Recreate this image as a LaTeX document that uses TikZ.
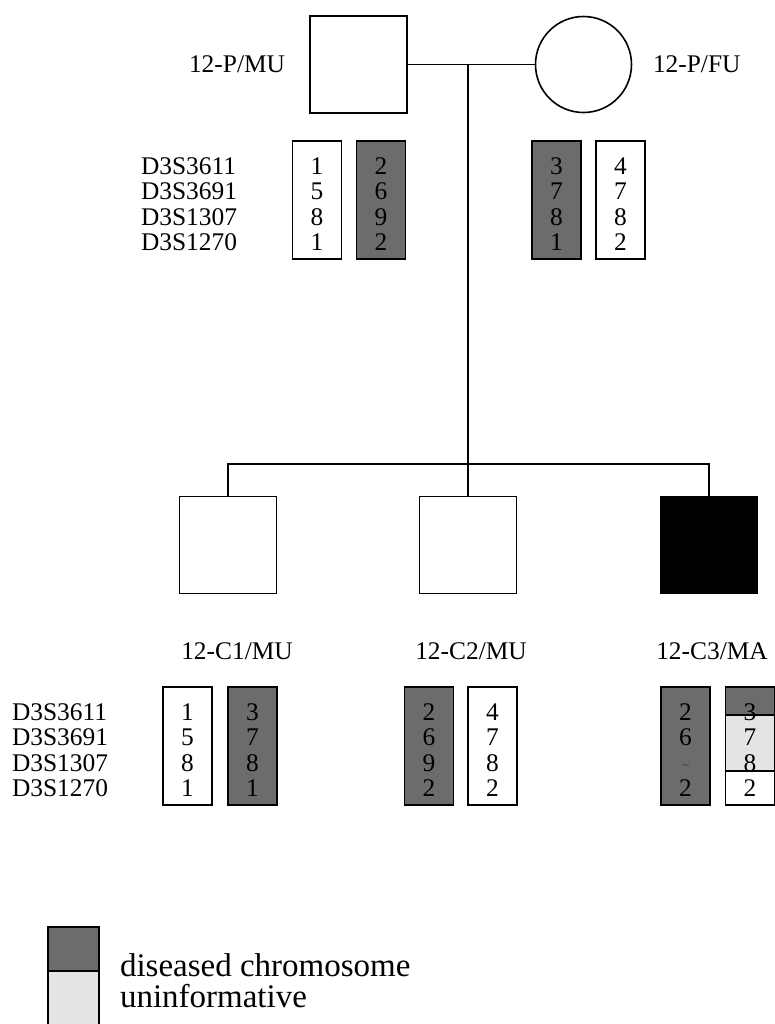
\documentclass[tikz,border=0pt]{standalone}
\usepackage{fontspec}
\setmainfont{Liberation Serif}
\usetikzlibrary{shapes.geometric}

\definecolor{diseased}{RGB}{108,108,108}
\definecolor{uninformative}{RGB}{228,228,228}

\newcommand{\hapfont}{\fontsize{12.7}{12.75}\selectfont}
\newcommand{\legfont}{\fontsize{16.5}{19}\selectfont}
\newcommand{\hapstrut}{\rule{0pt}{12.6pt}}

\tikzset{
  male/.style={
    draw=black, fill=white, line width=0.8pt,
    minimum width=48.5pt, minimum height=48.5pt,
    inner sep=0pt
  },
  female/.style={
    circle, draw=black, fill=white, line width=0.8pt,
    minimum size=48pt, inner sep=0pt
  },
  affected/.style={
    male, fill=black
  },
  idlabel/.style={
    font=\hapfont, inner sep=0pt
  },
  hapbox/.style={
    draw=black, line width=0.7pt,
    minimum width=24.5pt, minimum height=59pt,
    align=center, font=\hapfont,
    inner sep=0pt, anchor=north
  },
  diseasedbox/.style={
    hapbox, fill=diseased
  },
  markerlist/.style={
    hapbox, draw=none, align=left,
    minimum width=0pt, anchor=north west
  },
  legendkey/.style={
    draw=black, line width=0.7pt,
    minimum width=25.5pt, inner sep=0pt, anchor=north west
  },
  legendtext/.style={
    font=\legfont, inner sep=0pt, anchor=west
  },
}

\begin{document}
\begin{tikzpicture}[x=0.5pt, y=-0.5pt, every node/.style={outer sep=0pt}]

\useasboundingbox (0,0) rectangle (775,1024);

%% Parents
\node[male] (father) at (358.5,64.5) {};
\node[female] (mother) at (583.5,64.5) {};
\node[idlabel, anchor=east] (fatherid) at (285,64.5) {12-P/MU};
\node[idlabel, anchor=west] (motherid) at (653,64.5) {12-P/FU};

%% Parent haplotypes
\node[markerlist] (parentmarkers) at (141,141)
  {\hapstrut D3S3611\\D3S3691\\D3S1307\\D3S1270};
\node[hapbox] (fatherhapa) at (317,141) {\hapstrut 1\\5\\8\\1};
\node[diseasedbox] (fatherhapb) at (381,141) {\hapstrut 2\\6\\9\\2};
\node[diseasedbox] (motherhapa) at (556.5,141) {\hapstrut 3\\7\\8\\1};
\node[hapbox] (motherhapb) at (620.5,141) {\hapstrut 4\\7\\8\\2};

%% Children
\node[male] (child1) at (228,545) {};
\node[male] (child2) at (468,545) {};
\node[affected] (child3) at (709,545) {};

%% Lines of descent
\coordinate (mate) at (468,64.5);
\coordinate (sibship) at (468,464);
\draw[line width=0.8pt] (father.east) -- (mother.west);
\draw[line width=0.8pt] (mate) -- (sibship);
\draw[line width=0.8pt] (child1.north) |- (sibship) -| (child3.north);
\draw[line width=0.8pt] (sibship) -- (child2.north);

%% Child IDs
\node[idlabel] (child1id) at (237,651) {12-C1/MU};
\node[idlabel] (child2id) at (471,651) {12-C2/MU};
\node[idlabel] (child3id) at (712,651) {12-C3/MA};

%% Child haplotypes
\node[markerlist] (childmarkers) at (12,687)
  {\hapstrut D3S3611\\D3S3691\\D3S1307\\D3S1270};
\node[hapbox] (child1hapa) at (187.5,687) {\hapstrut 1\\5\\8\\1};
\node[diseasedbox] (child1hapb) at (252.5,687) {\hapstrut 3\\7\\8\\1};
\node[diseasedbox] (child2hapa) at (429,687) {\hapstrut 2\\6\\9\\2};
\node[hapbox] (child2hapb) at (492.5,687) {\hapstrut 4\\7\\8\\2};
\node[diseasedbox] (child3hapa) at (685.5,687)
  {\hapstrut 2\\6\\\textcolor{diseased!80!black}{-}\\2};

% recombinant chromosome: diseased / uninformative / normal
\fill[diseased] (725.5,687) rectangle (774.5,715);
\fill[uninformative] (725.5,715) rectangle (774.5,771);
\draw[line width=0.7pt] (725.5,715) -- (774.5,715);
\draw[line width=0.7pt] (725.5,771) -- (774.5,771);
\node[hapbox] (child3hapb) at (750,687) {\hapstrut 3\\7\\8\\2};

%% Legend
\node[legendkey, fill=diseased, minimum height=22pt] (keydiseased) at (48,927) {};
\node[legendkey, fill=uninformative, minimum height=27pt] (keyuninf) at (48,971) {};
\node[legendtext] (legdiseased) at (120,965) {diseased chromosome};
\node[legendtext] (leguninf) at (120,996) {uninformative};

\end{tikzpicture}
\end{document}
